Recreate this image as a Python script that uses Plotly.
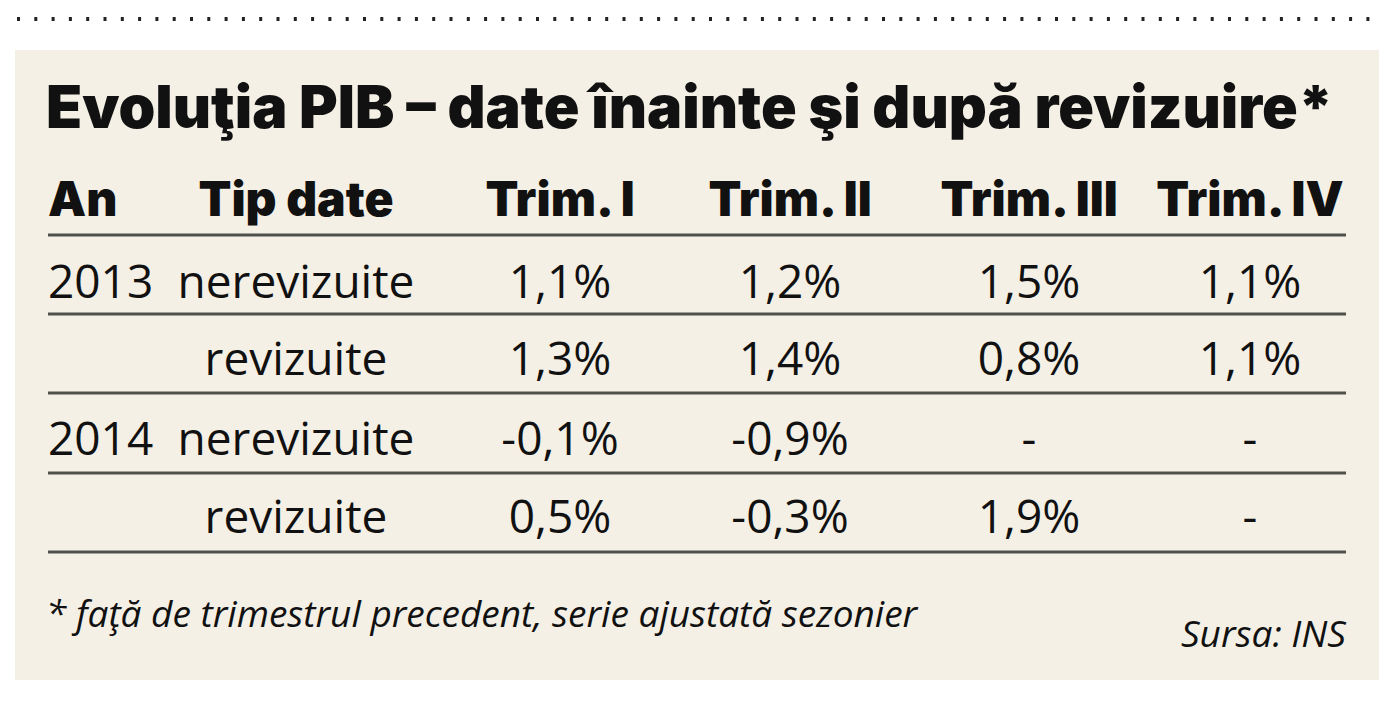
import plotly.graph_objects as go

title = "Evoluţia PIB – date înainte şi după revizuire*"
headers = ["An", "Tip date", "Trim. I", "Trim. II", "Trim. III", "Trim. IV"]
years = ["2013", "", "2014", ""]
data_types = ["nerevizuite", "revizuite", "nerevizuite", "revizuite"]
trim_1 = ["1,1%", "1,3%", "-0,1%", "0,5%"]
trim_2 = ["1,2%", "1,4%", "-0,9%", "-0,3%"]
trim_3 = ["1,5%", "0,8%", "-", "1,9%"]
trim_4 = ["1,1%", "1,1%", "-", "-"]
footnote = "* faţă de trimestrul precedent, serie ajustată sezonier"
source = "Sursa: INS"

# layout (pixel space)
W, H = 1400, 708
left, right = 48, 1346
col_x = [48, 296, 560, 790, 1029, 1250]
header_y = 204
row_y = [286, 363, 443, 521]
line_y = [235, 314, 393, 473, 552]
INK = "#111111"
HEAD_FONT = "Inter"
BODY_FONT = "Open Sans"
BODY_SIZE = 46

fig = go.Figure()

# panel
fig.add_shape(type="rect", x0=15, x1=1379, y0=50, y1=680,
              fillcolor="#f4f0e6", line_width=0, layer="below")
# dotted rule at top
fig.add_shape(type="line", x0=17, x1=1380, y0=19, y1=19,
              line=dict(color="#222222", width=4, dash="3px,14.3px"))
# table rules
for y in line_y:
    fig.add_shape(type="line", x0=left, x1=right, y0=y, y1=y,
                  line=dict(color="#50504a", width=2.8))

# title
fig.add_trace(go.Scatter(x=[46], y=[113], mode="text", text=[title],
                         textposition="middle right",
                         textfont=dict(family=HEAD_FONT, size=59, color=INK, weight=900)))

# headers
fig.add_trace(go.Scatter(x=[col_x[0]], y=[header_y], mode="text", text=[headers[0]],
                         textposition="middle right",
                         textfont=dict(family=HEAD_FONT, size=48, color=INK, weight=900)))
fig.add_trace(go.Scatter(x=col_x[1:], y=[header_y] * 5, mode="text", text=headers[1:],
                         textposition="middle center",
                         textfont=dict(family=HEAD_FONT, size=48, color=INK, weight=900)))

# body
fig.add_trace(go.Scatter(x=[col_x[0]] * len(years), y=row_y, mode="text", text=years,
                         textposition="middle right",
                         textfont=dict(family=BODY_FONT, size=BODY_SIZE, color=INK)))
for cx, col in zip(col_x[1:], [data_types, trim_1, trim_2, trim_3, trim_4]):
    fig.add_trace(go.Scatter(x=[cx] * len(col), y=row_y, mode="text", text=col,
                             textposition="middle center",
                             textfont=dict(family=BODY_FONT, size=BODY_SIZE, color=INK)))

# footnote & source
fig.add_trace(go.Scatter(x=[46], y=[618], mode="text", text=[footnote],
                         textposition="middle right",
                         textfont=dict(family=BODY_FONT, size=37, color=INK, style="italic")))
fig.add_trace(go.Scatter(x=[right], y=[638], mode="text", text=[source],
                         textposition="middle left",
                         textfont=dict(family=BODY_FONT, size=37, color=INK, style="italic")))

fig.update_layout(
    width=W, height=H, autosize=False,
    margin=dict(l=0, r=0, t=0, b=0),
    paper_bgcolor="white", plot_bgcolor="white",
    showlegend=False,
    xaxis=dict(range=[0, W], visible=False, fixedrange=True),
    yaxis=dict(range=[H, 0], visible=False, fixedrange=True),
)
fig.write_html("out.html", config={"displayModeBar": False},
               post_script="document.body.style.margin='0';")
